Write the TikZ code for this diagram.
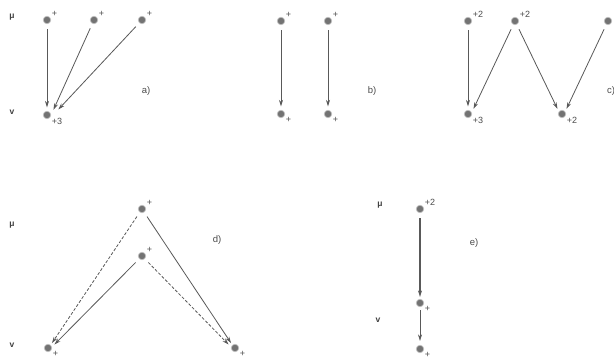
\documentclass[tikz,border=0pt]{standalone}
\usepackage{fontspec}
\setmainfont{Liberation Sans}
\usepackage{tikz}
\usetikzlibrary{calc,arrows.meta}

\begin{document}
\begin{tikzpicture}[x=1pt,y=-1pt,
  dot/.style={circle,fill=black!55,draw=black!25,line width=0.7pt,inner sep=0pt,minimum size=7.5pt},
  lbl/.style={text=black!70,font=\fontsize{9}{10}\selectfont,inner sep=1pt},
  side/.style={text=black!75,font=\fontsize{8.5}{9}\selectfont\bfseries},
  arr/.style={draw=black!65,line width=0.8pt,-{Stealth[length=6.5pt,width=4pt]},shorten >=3.5pt,shorten <=5pt},
  dsh/.style={dash pattern=on 3pt off 1.8pt},
  up/.style={label={[lbl]30:#1}},
  dn/.style={label={[lbl]-30:#1}}]
\useasboundingbox (0,0) rectangle (614,363);
\fill [white](0,0) rectangle (614,363);
% a)
\node [side] (mua) at (12,17) {μ};
\node [side] (nua) at (12,112) {v};
\node [dot,up=+] (a1) at (47,20) {};
\node [dot,up=+] (a2) at (94,20) {};
\node [dot,up=+] (a3) at (142,20) {};
\node [dot,dn=+3] (a0) at (47,115) {};
\draw [arr] (a1) -- (a0);
\draw [arr] (a2) -- ($(a0)+(5,-2)$);
\draw [arr] (a3) -- ($(a0)+(9,-3)$);
\node [lbl,font=\fontsize{9.5}{10}\selectfont] (la) at (146,91) {a)};
% b)
\node [dot,up=+] (b1) at (281,21) {};
\node [dot,up=+] (b2) at (328,21) {};
\node [dot,dn=+] (b3) at (281,114) {};
\node [dot,dn=+] (b4) at (328,114) {};
\draw [arr] (b1) -- (b3);
\draw [arr] (b2) -- (b4);
\node [lbl,font=\fontsize{9.5}{10}\selectfont] (lb) at (372,91) {b)};
% c)
\node [dot,up=+2] (c1) at (468,21) {};
\node [dot,up=+2] (c2) at (515,21) {};
\node [dot] (c3) at (608,21) {};
\node [dot,dn=+3] (c4) at (468,114) {};
\node [dot,dn=+2] (c5) at (562,114) {};
\draw [arr] (c1) -- (c4);
\draw [arr] (c2) -- ($(c4)+(4,-2)$);
\draw [arr] (c2) -- ($(c5)+(-3,-2)$);
\draw [arr] (c3) -- ($(c5)+(3,-2)$);
\node [lbl,font=\fontsize{9.5}{10}\selectfont,anchor=west] (lc) at (606,91) {c)};
% d)
\node [side] (mud) at (12,225) {μ};
\node [side] (nud) at (12,345) {v};
\node [dot,up=+] (d1) at (142,209) {};
\node [dot,up=+] (d2) at (142,256) {};
\node [dot,dn=+] (d3) at (48,348) {};
\node [dot,dn=+] (d4) at (235,348) {};
\draw [arr,dsh] (d1) -- ($(d3)+(2,-2)$);
\draw [arr] (d1) -- ($(d4)+(-2,-2)$);
\draw [arr] (d2) -- ($(d3)+(4,-1)$);
\draw [arr,dsh] (d2) -- ($(d4)+(-4,-1)$);
\node [lbl,font=\fontsize{9.5}{10}\selectfont] (ld) at (217,240) {d)};
% e)
\node [side] (mue) at (380,205) {μ};
\node [side] (nue) at (378,320) {v};
\node [dot,up=+2] (e1) at (420,209) {};
\node [dot,dn=+] (e2) at (420,303) {};
\node [dot,dn=+] (e3) at (420,349) {};
\draw [arr,line width=1.6pt,shorten >=2pt] (e1) -- (e2);
\draw [arr,shorten >=4pt,shorten <=3pt] (e2) -- (e3);
\node [lbl,font=\fontsize{9.5}{10}\selectfont] (le) at (474,243) {e)};
\end{tikzpicture}
\end{document}
